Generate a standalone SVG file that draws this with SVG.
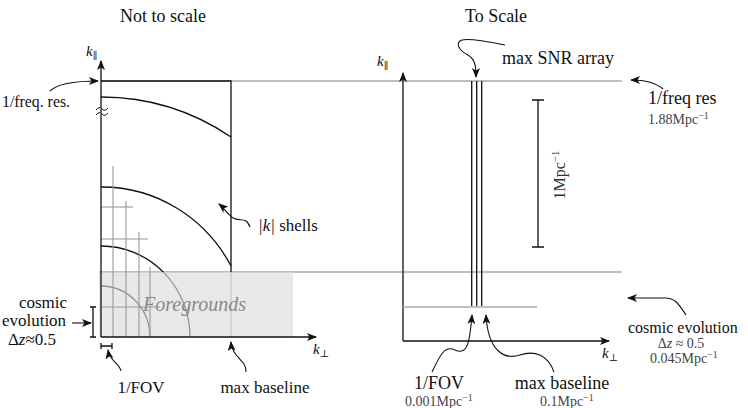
<svg xmlns="http://www.w3.org/2000/svg" width="748" height="408" viewBox="0 0 748 408" font-family="'Liberation Serif','DejaVu Serif',serif">
<style>
text{font-family:"Liberation Serif","DejaVu Serif",serif;fill:#111}
.t{font-size:18px}
.s{font-size:17px}
.m{font-size:14px;fill:#444}
.k{font-style:italic;font-size:15px}
.sub{font-size:10px;font-style:normal}
.ax{stroke:#111;stroke-width:1.3;fill:none}
.g{stroke:#aaa;stroke-width:1.6;fill:none}
.gr{stroke:#999;stroke-width:1.1;fill:none}
.bk{stroke:#111;stroke-width:1.3;fill:none}
.c{stroke:#111;stroke-width:1.1;fill:none}
</style>
<defs>
<marker id="ah" viewBox="0 0 10 8" refX="9" refY="4" markerWidth="10" markerHeight="8" markerUnits="userSpaceOnUse" orient="auto">
<path d="M0,0 L10,4 L0,8 L2.5,4 z" fill="#111"/>
</marker>
</defs>
<rect width="748" height="408" fill="#fff"/>

<!-- titles -->
<g id="title-left"><text class="t" x="163" y="22" text-anchor="middle">Not to scale</text></g>
<g id="title-right"><text class="t" x="496" y="22" text-anchor="middle">To Scale</text></g>

<!-- long gray lines -->
<g id="gray-lines">
<line class="g" x1="101" y1="81" x2="622" y2="81"/>
<line class="g" x1="99" y1="272" x2="622" y2="272"/>
</g>

<!-- LEFT PANEL -->
<g id="left-plot">
<path class="bk" d="M101,81 H231 V272"/>
<path class="bk" d="M101,97 A235,240 0 0 1 231,137"/>
<path class="bk" d="M101,187 A147,151 0 0 1 231,266"/>
<path class="bk" d="M101,246 A89,91 0 0 1 190,337"/>
<path class="bk" d="M101,286 A49,51 0 0 1 150,337"/>
<line class="gr" x1="231" y1="272" x2="231" y2="337"/>
</g>
<g id="foregrounds">
<rect x="99" y="272" width="194" height="65" fill="#dcdcdc" fill-opacity="0.65"/>
<text x="143" y="311" font-size="20" font-style="italic" style="fill:#888">Foregrounds</text>
</g>
<g id="grid">
<line class="gr" x1="113" y1="166" x2="113" y2="337"/>
<line class="gr" x1="126" y1="201" x2="126" y2="337"/>
<line class="gr" x1="139" y1="232" x2="139" y2="337"/>
<line class="gr" x1="150" y1="267" x2="150" y2="337"/>
<line class="gr" x1="101" y1="207" x2="133" y2="207"/>
<line class="gr" x1="101" y1="239" x2="148" y2="239"/>
<line class="gr" x1="101" y1="307" x2="160" y2="307"/>
</g>
<g id="left-axes">
<line class="ax" x1="101" y1="337" x2="101" y2="61" marker-end="url(#ah)"/>
<line class="ax" x1="101" y1="337" x2="316" y2="337" marker-end="url(#ah)"/>
<path d="M96,110 q3,-4 6,-1 q3,3 6,-1 M96,115 q3,-4 6,-1 q3,3 6,-1" stroke="#111" stroke-width="1" fill="#fff"/>
<text class="k" x="86" y="56">k<tspan class="sub" dy="3">∥</tspan></text>
<text class="k" x="313" y="354">k<tspan class="sub" dy="3">⊥</tspan></text>
</g>
<g id="left-freqres"><text x="70" y="107" text-anchor="end" font-size="15.8">1/freq. res.</text></g>
<g id="left-shells"><text class="s" x="258" y="231"><tspan font-style="italic">|k|</tspan> shells</text></g>
<g id="left-cosmic">
<text class="s" x="43" y="308" text-anchor="middle">cosmic</text>
<text class="s" x="34" y="326" text-anchor="middle">evolution</text>
<text class="s" x="32" y="345" text-anchor="middle">Δ<tspan font-style="italic">z</tspan>≈0.5</text>
<path class="bk" d="M93,307 V337 M90,307 H96 M90,337 H96"/>
</g>
<g id="left-fov">
<text class="s" x="141" y="393" text-anchor="middle">1/FOV</text>
<path class="bk" d="M101,346 H112 M101,343 V349 M112,343 V349"/>
</g>
<g id="left-maxbase"><text class="s" x="265" y="393" text-anchor="middle">max baseline</text></g>

<!-- RIGHT PANEL -->
<g id="right-axes">
<line class="ax" x1="403" y1="341" x2="403" y2="73" marker-end="url(#ah)"/>
<line class="ax" x1="403" y1="341" x2="609" y2="341" marker-end="url(#ah)"/>
<text class="k" x="377" y="66">k<tspan class="sub" dy="3">∥</tspan></text>
<text class="k" x="602" y="358">k<tspan class="sub" dy="3">⊥</tspan></text>
<line class="g" x1="403" y1="307" x2="537" y2="307"/>
</g>
<g id="snr-array">
<path class="bk" d="M471.7,81 V306 M476.7,81 V306 M481.7,81 V306"/>
<text class="t" x="502" y="64">max SNR array</text>
</g>
<g id="scale-bar">
<path class="bk" d="M538,100 V247 M532,100 H544 M532,247 H544"/>
<text transform="translate(565,175) rotate(-90)" text-anchor="middle" font-size="16" style="fill:#333">1Mpc<tspan font-size="11" dy="-6">−1</tspan></text>
</g>
<g id="right-freqres">
<text class="t" x="648" y="104">1/freq res</text>
<text class="m" x="648" y="124">1.88Mpc<tspan font-size="10" dy="-5">−1</tspan></text>
</g>
<g id="right-cosmic">
<text x="628" y="333" font-size="16">cosmic evolution</text>
<text class="m" x="681" y="348" text-anchor="middle">Δ<tspan font-style="italic">z</tspan> ≈ 0.5</text>
<text class="m" x="650" y="363">0.045Mpc<tspan font-size="10" dy="-5">−1</tspan></text>
</g>
<g id="right-fov">
<text class="t" x="439" y="389" text-anchor="middle">1/FOV</text>
<text class="m" x="405" y="406">0.001Mpc<tspan font-size="10" dy="-5">−1</tspan></text>
</g>
<g id="right-maxbase">
<text class="t" x="562" y="389" text-anchor="middle">max baseline</text>
<text class="m" x="540" y="406">0.1Mpc<tspan font-size="10" dy="-5">−1</tspan></text>
</g>

<!-- connectors -->
<g id="connectors">
<path class="c" d="M50,91 C58,83 75,81 98,81" marker-end="url(#ah)"/>
<path class="c" d="M250,227 C246,216 240,222 233,218 C227,214 225,209 219,204" marker-end="url(#ah)"/>
<line class="c" x1="72" y1="323" x2="91" y2="323" marker-end="url(#ah)"/>
<path class="c" d="M121,371 C119,362 110,362 108,350" marker-end="url(#ah)"/>
<path class="c" d="M246,372 C247,360 232,358 231,342" marker-end="url(#ah)"/>
<path class="c" d="M505,45 C490,42 470,38 462,40 C455,42 458,50 468,55 C476,60 476,68 476,77" marker-end="url(#ah)"/>
<path class="c" d="M663,89 C655,82 645,80 631,80" marker-end="url(#ah)"/>
<path class="c" d="M686,315 C678,303 675,298 665,298 L628,298" marker-end="url(#ah)"/>
<path class="c" d="M432,372 C440,355 445,345 455,350 C468,356 470,340 472,315" marker-end="url(#ah)"/>
<path class="c" d="M554,372 C548,355 535,350 520,355 C505,360 488,352 486,315" marker-end="url(#ah)"/>
</g>
</svg>
